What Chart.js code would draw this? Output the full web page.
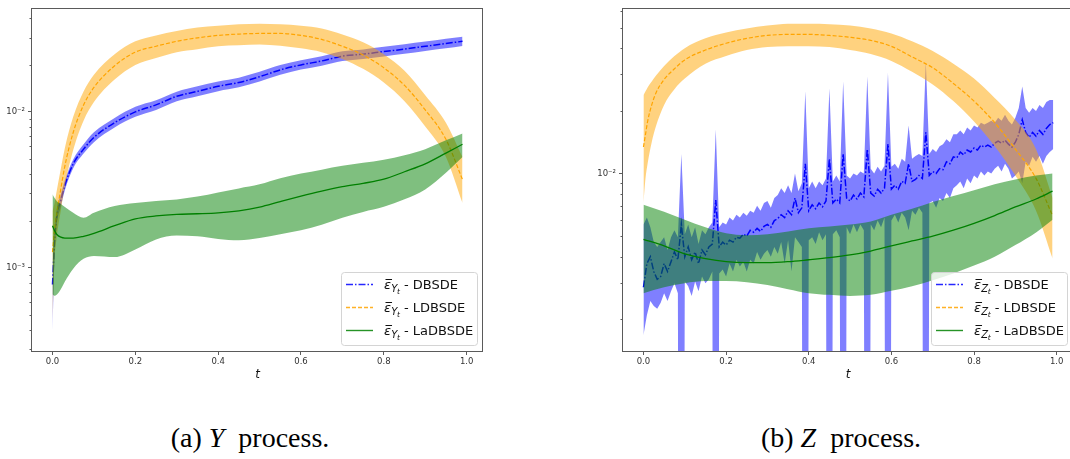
<!DOCTYPE html>
<html><head><meta charset="utf-8">
<script src="https://cdn.jsdelivr.net/npm/chart.js@4/dist/chart.umd.min.js"></script>
<style>
html,body{margin:0;padding:0;background:#fff;overflow:hidden;width:1070px;height:459px;}
#wrap{position:relative;width:1070px;height:459px;overflow:hidden;background:#fff;}
canvas{position:absolute;top:0;}
.cap{position:absolute;font-family:"Liberation Serif",serif;font-size:28px;line-height:28px;white-space:nowrap;color:#000;transform:translateX(-50%);}
</style></head><body>
<div id="wrap">
<canvas id="cy" width="500" height="400" style="left:0px"></canvas>
<canvas id="cz" width="500" height="400" style="left:590px"></canvas>
<div class="cap" style="left:250px;top:424px">(a) <i>Y</i>&nbsp; process.</div>
<div class="cap" style="left:841px;top:424px">(b) <i>Z</i>&nbsp; process.</div>
</div>
<script>
// ---------- common axis values ----------
const xTicks = [0, 0.2, 0.4, 0.6, 0.8, 1.0];
const yTicksY = [1e-3, 1e-2];
const yTicksZ = [1e-2];

// ---------- (a) Y process ----------
const tY = [0,0.005,0.01,0.02,0.03,0.05,0.075,0.1,0.15,0.2,0.25,0.3,0.35,0.4,0.45,0.5,0.55,0.6,0.65,0.7,0.75,0.8,0.85,0.9,0.95,0.99];

const yDbsdeMean = [7.8e-4,1.46e-3,2.1e-3,2.7e-3,3.39e-3,4.64e-3,5.77e-3,6.86e-3,8.53e-3,0.0100,0.0111,0.0126,0.01355,0.0146,0.01545,0.01683,0.01862,0.02004,0.02124,0.0228,0.0235,0.0244,0.0253,0.0264,0.0275,0.0284];
const yDbsdeHi   = [1.0e-3,1.7e-3,2.35e-3,2.95e-3,3.65e-3,4.95e-3,6.2e-3,7.4e-3,9.15e-3,0.0108,0.0119,0.0135,0.0146,0.0157,0.0166,0.0181,0.0200,0.0215,0.0228,0.0245,0.0252,0.0262,0.0272,0.0283,0.0295,0.0304];
const yDbsdeLo   = [3.6e-4,1.2e-3,1.85e-3,2.45e-3,3.15e-3,4.35e-3,5.4e-3,6.4e-3,7.95e-3,0.0093,0.0103,0.0117,0.0126,0.0136,0.0144,0.0157,0.0173,0.0187,0.0198,0.0212,0.0219,0.0227,0.0236,0.0246,0.0256,0.0265];

const yLdbsdeMean = [1.26e-3,1.73e-3,2.19e-3,3.19e-3,4.51e-3,7.38e-3,0.01107,0.01436,0.01977,0.0242,0.0264,0.0284,0.0299,0.0310,0.0316,0.0319,0.0319,0.0310,0.0292,0.0264,0.0232,0.0192,0.0148,0.0103,6.67e-3,3.68e-3];
const yLdbsdeHi   = [2.3e-3,2.6e-3,3.1e-3,4.3e-3,5.9e-3,9.3e-3,0.01355,0.01734,0.0235,0.0284,0.0310,0.0331,0.0348,0.0357,0.0365,0.0368,0.0365,0.0357,0.0343,0.0314,0.0280,0.0235,0.01837,0.0128,8.53e-3,5.14e-3];
const yLdbsdeLo   = [4.6e-4,1.12e-3,1.55e-3,2.32e-3,3.37e-3,5.69e-3,8.78e-3,0.01156,0.01614,0.0200,0.0222,0.0242,0.0253,0.0264,0.0268,0.0271,0.0266,0.0256,0.0242,0.0219,0.0189,0.01545,0.01173,8.05e-3,5.14e-3,2.6e-3];

const yLadbsdeMean = [1.86e-3,1.73e-3,1.64e-3,1.57e-3,1.55e-3,1.55e-3,1.59e-3,1.66e-3,1.86e-3,2.06e-3,2.15e-3,2.2e-3,2.22e-3,2.25e-3,2.32e-3,2.45e-3,2.66e-3,2.88e-3,3.10e-3,3.31e-3,3.48e-3,3.7e-3,4.13e-3,4.64e-3,5.44e-3,6.2e-3];
const yLadbsdeHi   = [2.96e-3,2.8e-3,2.68e-3,2.56e-3,2.45e-3,2.25e-3,2.09e-3,2.25e-3,2.49e-3,2.6e-3,2.68e-3,2.74e-3,2.86e-3,3.04e-3,3.23e-3,3.43e-3,3.75e-3,4.02e-3,4.26e-3,4.51e-3,4.71e-3,4.94e-3,5.28e-3,5.77e-3,6.57e-3,7.27e-3];
const yLadbsdeLo   = [6.76e-4,6.6e-4,6.7e-4,7.28e-4,8.17e-4,9.86e-4,1.14e-3,1.19e-3,1.17e-3,1.31e-3,1.52e-3,1.61e-3,1.59e-3,1.53e-3,1.5e-3,1.55e-3,1.64e-3,1.74e-3,1.89e-3,2.09e-3,2.28e-3,2.46e-3,2.75e-3,3.18e-3,4.07e-3,5.14e-3];

// ---------- (b) Z process ----------
const tZ = tY;
const zLdbsdeMean = [0.0134,0.01542,0.01774,0.02133,0.02427,0.02825,0.03178,0.03506,0.03908,0.04211,0.04446,0.04592,0.04645,0.04645,0.04592,0.04499,0.04348,0.04074,0.03622,0.03215,0.02704,0.02224,0.01754,0.01309,9.48e-3,6.28e-3];
const zLdbsdeHi   = [0.02377,0.02478,0.02588,0.02761,0.02945,0.03281,0.03656,0.0399,0.04446,0.04745,0.04955,0.05118,0.05228,0.05228,0.052,0.05118,0.04955,0.0469,0.04302,0.03864,0.03356,0.02851,0.02301,0.01812,0.01309,7.63e-3];
const zLdbsdeLo   = [7.2e-3,9.48e-3,0.01114,0.01413,0.0168,0.02133,0.02535,0.02851,0.03356,0.03656,0.03908,0.04037,0.04074,0.04074,0.04037,0.03908,0.03742,0.03467,0.03076,0.02673,0.02224,0.01774,0.01352,9.79e-3,6.64e-3,3.91e-3];

const tZg = [0,0.05,0.1,0.15,0.2,0.25,0.3,0.35,0.4,0.45,0.5,0.55,0.6,0.65,0.7,0.75,0.8,0.85,0.9,0.95,0.99];
const zLadbsdeMean = [4.84e-3,4.50e-3,4.12e-3,3.91e-3,3.78e-3,3.74e-3,3.74e-3,3.78e-3,3.86e-3,3.95e-3,4.07e-3,4.25e-3,4.50e-3,4.75e-3,5.01e-3,5.35e-3,5.77e-3,6.29e-3,6.92e-3,7.55e-3,8.23e-3];
const zLadbsdeHi   = [7.08e-3,6.56e-3,6.01e-3,5.52e-3,5.17e-3,5.06e-3,5.12e-3,5.28e-3,5.46e-3,5.57e-3,5.70e-3,5.89e-3,6.35e-3,6.78e-3,7.31e-3,7.80e-3,8.32e-3,8.88e-3,9.37e-3,9.79e-3,0.0100];
const zLadbsdeLo   = [2.67e-3,2.85e-3,2.98e-3,3.05e-3,3.05e-3,3.01e-3,2.92e-3,2.79e-3,2.67e-3,2.62e-3,2.59e-3,2.62e-3,2.74e-3,2.88e-3,3.08e-3,3.32e-3,3.62e-3,3.99e-3,4.54e-3,5.22e-3,6.01e-3];

const tZb = [
0,.0083,.0167,.025,.0333,.0417,.05,.0583,.0667,.075,.0833,.0917,
.1,.1083,.1167,.125,.1333,.1417,.15,.1583,.1667,.175,.1833,.1917,
.2,.2083,.2167,.225,.2333,.2417,.25,.2583,.2667,.275,.2833,.2917,
.3,.3083,.3167,.325,.3333,.3417,.35,.3583,.3667,.375,.3833,.3917,
.4,.4083,.4167,.425,.4333,.4417,.45,.4583,.4667,.475,.4833,.4917,
.5,.5083,.5167,.525,.5333,.5417,.55,.5583,.5667,.575,.5833,.5917,
.6,.6083,.6167,.625,.6333,.6417,.65,.6583,.6667,.675,.6833,.6917,
.7,.7083,.7167,.725,.7333,.7417,.75,.7583,.7667,.775,.7833,.7917,
.8,.8083,.8167,.825,.8333,.8417,.85,.8583,.8667,.875,.8833,.8917,
.9,.9083,.9167,.925,.9333,.9417,.95,.9583,.9667,.975,.9833,.9917];
const zDbsdeMean = [
2.85e-3,3.70e-3,3.99e-3,3.39e-3,3.11e-3,3.21e-3,3.70e-3,3.39e-3,3.78e-3,4.21e-3,3.86e-3,5.70e-3,
3.99e-3,4.45e-3,3.86e-3,4.21e-3,3.70e-3,4.30e-3,4.08e-3,4.45e-3,4.59e-3,7.47e-3,4.45e-3,4.69e-3,
4.54e-3,4.79e-3,4.69e-3,4.95e-3,4.90e-3,5.12e-3,5.01e-3,5.34e-3,5.23e-3,5.46e-3,5.28e-3,5.58e-3,
5.70e-3,5.52e-3,5.95e-3,6.08e-3,6.35e-3,6.15e-3,6.63e-3,6.35e-3,7.63e-3,6.49e-3,6.85e-3,11.14e-3,
6.63e-3,7.08e-3,6.78e-3,7.23e-3,6.93e-3,7.39e-3,11.76e-3,7.23e-3,7.55e-3,7.23e-3,12.41e-3,7.63e-3,
7.39e-3,7.88e-3,7.55e-3,8.06e-3,7.72e-3,13.10e-3,8.06e-3,7.80e-3,8.41e-3,8.06e-3,8.50e-3,13.83e-3,
8.41e-3,8.78e-3,8.41e-3,9.17e-3,8.98e-3,11.14e-3,9.17e-3,9.37e-3,9.79e-3,9.47e-3,15.75e-3,9.79e-3,
10.22e-3,10.00e-3,10.55e-3,10.44e-3,11.39e-3,11.14e-3,12.02e-3,11.89e-3,12.68e-3,12.28e-3,12.96e-3,12.68e-3,
13.25e-3,12.96e-3,13.68e-3,13.39e-3,13.68e-3,13.39e-3,13.98e-3,14.29e-3,13.98e-3,14.44e-3,13.83e-3,13.39e-3,
14.13e-3,15.41e-3,18.12e-3,15.75e-3,14.92e-3,15.75e-3,15.08e-3,16.09e-3,15.41e-3,16.44e-3,17.17e-3,17.54e-3];
const zDbsdeHi = [
5.70e-3,6.15e-3,5.52e-3,4.69e-3,4.45e-3,4.69e-3,4.95e-3,4.30e-3,4.95e-3,5.34e-3,4.95e-3,12.41e-3,
5.12e-3,5.70e-3,4.95e-3,5.52e-3,4.59e-3,5.34e-3,5.12e-3,5.52e-3,5.82e-3,16.27e-3,5.52e-3,5.82e-3,
5.70e-3,6.15e-3,5.95e-3,6.35e-3,6.15e-3,6.49e-3,6.28e-3,6.63e-3,6.49e-3,7.00e-3,6.63e-3,7.23e-3,
7.39e-3,6.85e-3,7.63e-3,7.88e-3,8.50e-3,8.06e-3,8.78e-3,8.06e-3,10.00e-3,8.23e-3,8.98e-3,24.79e-3,
8.50e-3,9.17e-3,8.50e-3,9.17e-3,8.78e-3,9.47e-3,25.61e-3,9.17e-3,9.79e-3,9.17e-3,27.62e-3,9.79e-3,
9.47e-3,10.00e-3,9.79e-3,10.22e-3,10.00e-3,29.16e-3,10.55e-3,10.00e-3,10.79e-3,10.22e-3,10.90e-3,30.45e-3,
10.79e-3,11.14e-3,10.55e-3,11.76e-3,11.39e-3,16.98e-3,11.76e-3,12.15e-3,12.41e-3,12.15e-3,34.29e-3,12.41e-3,
13.10e-3,12.68e-3,13.53e-3,13.83e-3,14.60e-3,14.13e-3,15.41e-3,15.41e-3,16.09e-3,15.41e-3,16.62e-3,16.09e-3,
16.98e-3,16.62e-3,17.54e-3,17.17e-3,17.54e-3,17.93e-3,17.54e-3,18.52e-3,17.93e-3,19.14e-3,17.93e-3,17.17e-3,
18.52e-3,20.63e-3,26.17e-3,20.63e-3,19.55e-3,20.63e-3,19.97e-3,21.31e-3,20.63e-3,22.02e-3,22.50e-3,22.50e-3];
const zDbsdeLo = [
1.68e-3,2.09e-3,2.45e-3,2.32e-3,2.25e-3,2.40e-3,2.67e-3,2.45e-3,2.73e-3,2.98e-3,2.67e-3,1e-9,
3.04e-3,2.88e-3,2.59e-3,3.04e-3,2.73e-3,3.21e-3,2.98e-3,3.11e-3,3.39e-3,1e-9,3.32e-3,3.47e-3,
3.21e-3,3.70e-3,3.39e-3,3.86e-3,3.58e-3,3.78e-3,3.39e-3,3.86e-3,3.70e-3,4.21e-3,3.86e-3,4.12e-3,
4.30e-3,3.99e-3,4.45e-3,4.12e-3,4.69e-3,3.70e-3,4.79e-3,3.39e-3,4.95e-3,4.69e-3,4.45e-3,1e-9,
4.79e-3,4.95e-3,4.59e-3,5.23e-3,4.79e-3,5.12e-3,1e-9,5.12e-3,5.34e-3,4.95e-3,1e-9,5.52e-3,
5.12e-3,5.70e-3,5.23e-3,5.70e-3,5.34e-3,1e-9,5.70e-3,5.34e-3,5.95e-3,5.52e-3,6.15e-3,1e-9,
5.95e-3,6.35e-3,5.82e-3,6.49e-3,6.15e-3,5.34e-3,6.63e-3,6.35e-3,6.85e-3,6.49e-3,1e-9,7.23e-3,
7.39e-3,6.85e-3,7.63e-3,7.39e-3,8.06e-3,7.63e-3,8.50e-3,8.78e-3,9.17e-3,8.50e-3,9.47e-3,8.98e-3,
9.79e-3,9.47e-3,10.22e-3,9.79e-3,10.22e-3,10.00e-3,10.55e-3,10.90e-3,10.22e-3,11.14e-3,10.55e-3,9.47e-3,
9.79e-3,10.22e-3,8.98e-3,11.39e-3,10.90e-3,12.02e-3,11.39e-3,12.15e-3,11.14e-3,12.15e-3,12.68e-3,13.10e-3];

// ---------- styles ----------
const BLUE = '#0000ff', ORANGE = '#ffa500', GREEN = '#008000';
const series = [
  {name:'DBSDE',   color:BLUE,   fill:'rgba(0,0,255,0.5)',   dash:[7,2,1.5,2], width:1.5},
  {name:'LDBSDE',  color:ORANGE, fill:'rgba(255,165,0,0.5)', dash:[4,2],       width:1.2},
  {name:'LaDBSDE', color:GREEN,  fill:'rgba(0,128,0,0.5)',   dash:[],          width:1.3}
];

function pts(t, arr){ return t.map((x,i)=>({x:x, y:arr[i]})); }

function buildDatasets(groups){
  const ds = [];
  groups.forEach((g,k)=>{
    const s = series[k];
    const base = ds.length;
    const ord = 30 - k*10;
    const smooth = g.smooth ? 'monotone' : 'default';
    ds.push({label:s.name, data:pts(g.t,g.mean), borderColor:s.color, borderWidth:s.width, borderDash:s.dash,
             pointRadius:0, fill:false, order:ord, cubicInterpolationMode:smooth, tension:0});
    ds.push({label:s.name+' hi', data:pts(g.t,g.hi), borderColor:'rgba(0,0,0,0)', borderWidth:0,
             backgroundColor:s.fill, pointRadius:0, fill:base+2, order:ord+1, cubicInterpolationMode:smooth, tension:0});
    ds.push({label:s.name+' lo', data:pts(g.t,g.lo), borderColor:'rgba(0,0,0,0)', borderWidth:0,
             pointRadius:0, fill:false, order:ord+2, cubicInterpolationMode:smooth, tension:0});
  });
  return ds;
}

const SUP = {'-':'\u207B','0':'\u2070','1':'\u00B9','2':'\u00B2','3':'\u00B3','4':'\u2074','5':'\u2075','6':'\u2076','7':'\u2077','8':'\u2078','9':'\u2079'};
function logLabel(v){ const e = Math.round(Math.log10(v)); return '10' + String(e).split('').map(c=>SUP[c]).join(''); }

function decoPlugin(letter){
  return {
    id:'deco'+letter,
    afterDatasetsDraw(chart){
      const ctx = chart.ctx, a = chart.chartArea, ys = chart.scales.y;
      ctx.save();
      // minor ticks
      ctx.strokeStyle = '#333'; ctx.lineWidth = 0.8;
      const lo = Math.floor(Math.log10(ys.min)), hi = Math.ceil(Math.log10(ys.max));
      for (let d = lo; d <= hi; d++) {
        for (let m = 2; m <= 9; m++) {
          const v = m * Math.pow(10, d);
          if (v < ys.min || v > ys.max) continue;
          const y = Math.round(ys.getPixelForValue(v)) + 0.5;
          ctx.beginPath(); ctx.moveTo(a.left - 2.5, y); ctx.lineTo(a.left, y); ctx.stroke();
        }
      }
      // spines
      ctx.strokeStyle = '#5a5a5a'; ctx.lineWidth = 1;
      ctx.strokeRect(Math.round(a.left) - 0.5, Math.round(a.top) + 0.5, Math.round(a.right - a.left), Math.round(a.bottom - a.top));
      // legend
      const w = 136, h = 73;
      const bx = Math.round(a.right) - 6 - w, by = Math.round(a.bottom) - 6 - h;
      ctx.beginPath();
      ctx.roundRect(bx + 0.5, by + 0.5, w, h, 3);
      ctx.fillStyle = 'rgba(255,255,255,0.8)'; ctx.fill();
      ctx.strokeStyle = '#d4d4d4'; ctx.lineWidth = 1; ctx.stroke();
      series.forEach((s, k) => {
        const cy = by + 12.5 + k * 23;
        ctx.save();
        ctx.globalAlpha = 0.85;
        ctx.setLineDash(s.dash); ctx.strokeStyle = s.color; ctx.lineWidth = Math.max(1.4, s.width);
        ctx.beginPath(); ctx.moveTo(bx + 5, cy); ctx.lineTo(bx + 32, cy); ctx.stroke();
        ctx.restore();
        let x = bx + 43; const base = cy + 4.5;
        ctx.fillStyle = '#111'; ctx.textBaseline = 'alphabetic'; ctx.textAlign = 'left';
        ctx.font = 'italic 13px "DejaVu Sans"';
        ctx.fillText('\u03B5', x, base);
        const ew = ctx.measureText('\u03B5').width;
        ctx.fillRect(x + 1.5, base - 10, ew - 0.5, 1);
        x += ew + 0.3;
        ctx.font = 'italic 10px "DejaVu Sans"';
        ctx.fillText(letter, x, base + 2.5);
        x += ctx.measureText(letter).width - 0.5;
        ctx.font = 'italic 7.5px "DejaVu Sans"';
        ctx.fillText('t', x, base + 4.5);
        x += ctx.measureText('t').width;
        ctx.font = '13px "DejaVu Sans"';
        ctx.fillText(' - ' + s.name, x, base);
      });
      ctx.restore();
    }
  };
}

function makeChart(id, groups, ymin, ymax, yTicks, yAxisW, letter){
  return new Chart(document.getElementById(id), {
    type:'line',
    data:{datasets:buildDatasets(groups)},
    options:{
      responsive:false, animation:false, devicePixelRatio:1,
      layout:{padding:{left:0, right:17, top:1, bottom:17}},
      plugins:{legend:{display:false}, tooltip:{enabled:false}, title:{display:false}},
      scales:{
        x:{type:'linear', bounds:'data', min:-0.0495, max:1.0395,
           afterBuildTicks:s=>{ s.ticks = xTicks.map(v=>({value:v})); },
           afterFit:s=>{ s.height = 32; },
           ticks:{callback:v=>Number(v).toFixed(1), font:{family:'DejaVu Sans', size:8.5}, color:'#333', padding:2, maxRotation:0, autoSkip:false},
           grid:{drawOnChartArea:false, drawTicks:true, tickLength:4, tickColor:'#333', tickWidth:0.8},
           border:{display:false},
           title:{display:true, text:'t', font:{family:'DejaVu Sans', style:'italic', size:12}, color:'#111', padding:{top:0, bottom:1}}
        },
        y:{type:'logarithmic', bounds:'data', min:ymin, max:ymax,
           afterBuildTicks:s=>{ s.ticks = yTicks.map(v=>({value:v})); },
           afterFit:s=>{ s.width = yAxisW; },
           ticks:{callback:v=>logLabel(v), font:{family:'DejaVu Sans', size:8.5}, color:'#333', padding:3, autoSkip:false},
           grid:{drawOnChartArea:false, drawTicks:true, tickLength:4, tickColor:'#333', tickWidth:0.8},
           border:{display:false}
        }
      }
    },
    plugins:[decoPlugin(letter)]
  });
}

makeChart('cy', [
  {t:tY, mean:yDbsdeMean, hi:yDbsdeHi, lo:yDbsdeLo, smooth:true},
  {t:tY, mean:yLdbsdeMean, hi:yLdbsdeHi, lo:yLdbsdeLo, smooth:true},
  {t:tY, mean:yLadbsdeMean, hi:yLadbsdeHi, lo:yLadbsdeLo, smooth:true}
], 2.92e-4, 0.0464, yTicksY, 32, 'Y');

makeChart('cz', [
  {t:tZb, mean:zDbsdeMean, hi:zDbsdeHi, lo:zDbsdeLo, smooth:false},
  {t:tZ, mean:zLdbsdeMean, hi:zLdbsdeHi, lo:zLdbsdeLo, smooth:true},
  {t:tZg, mean:zLadbsdeMean, hi:zLadbsdeHi, lo:zLadbsdeLo, smooth:true}
], 1.41e-3, 0.0621, yTicksZ, 33, 'Z');
</script>
</body></html>
